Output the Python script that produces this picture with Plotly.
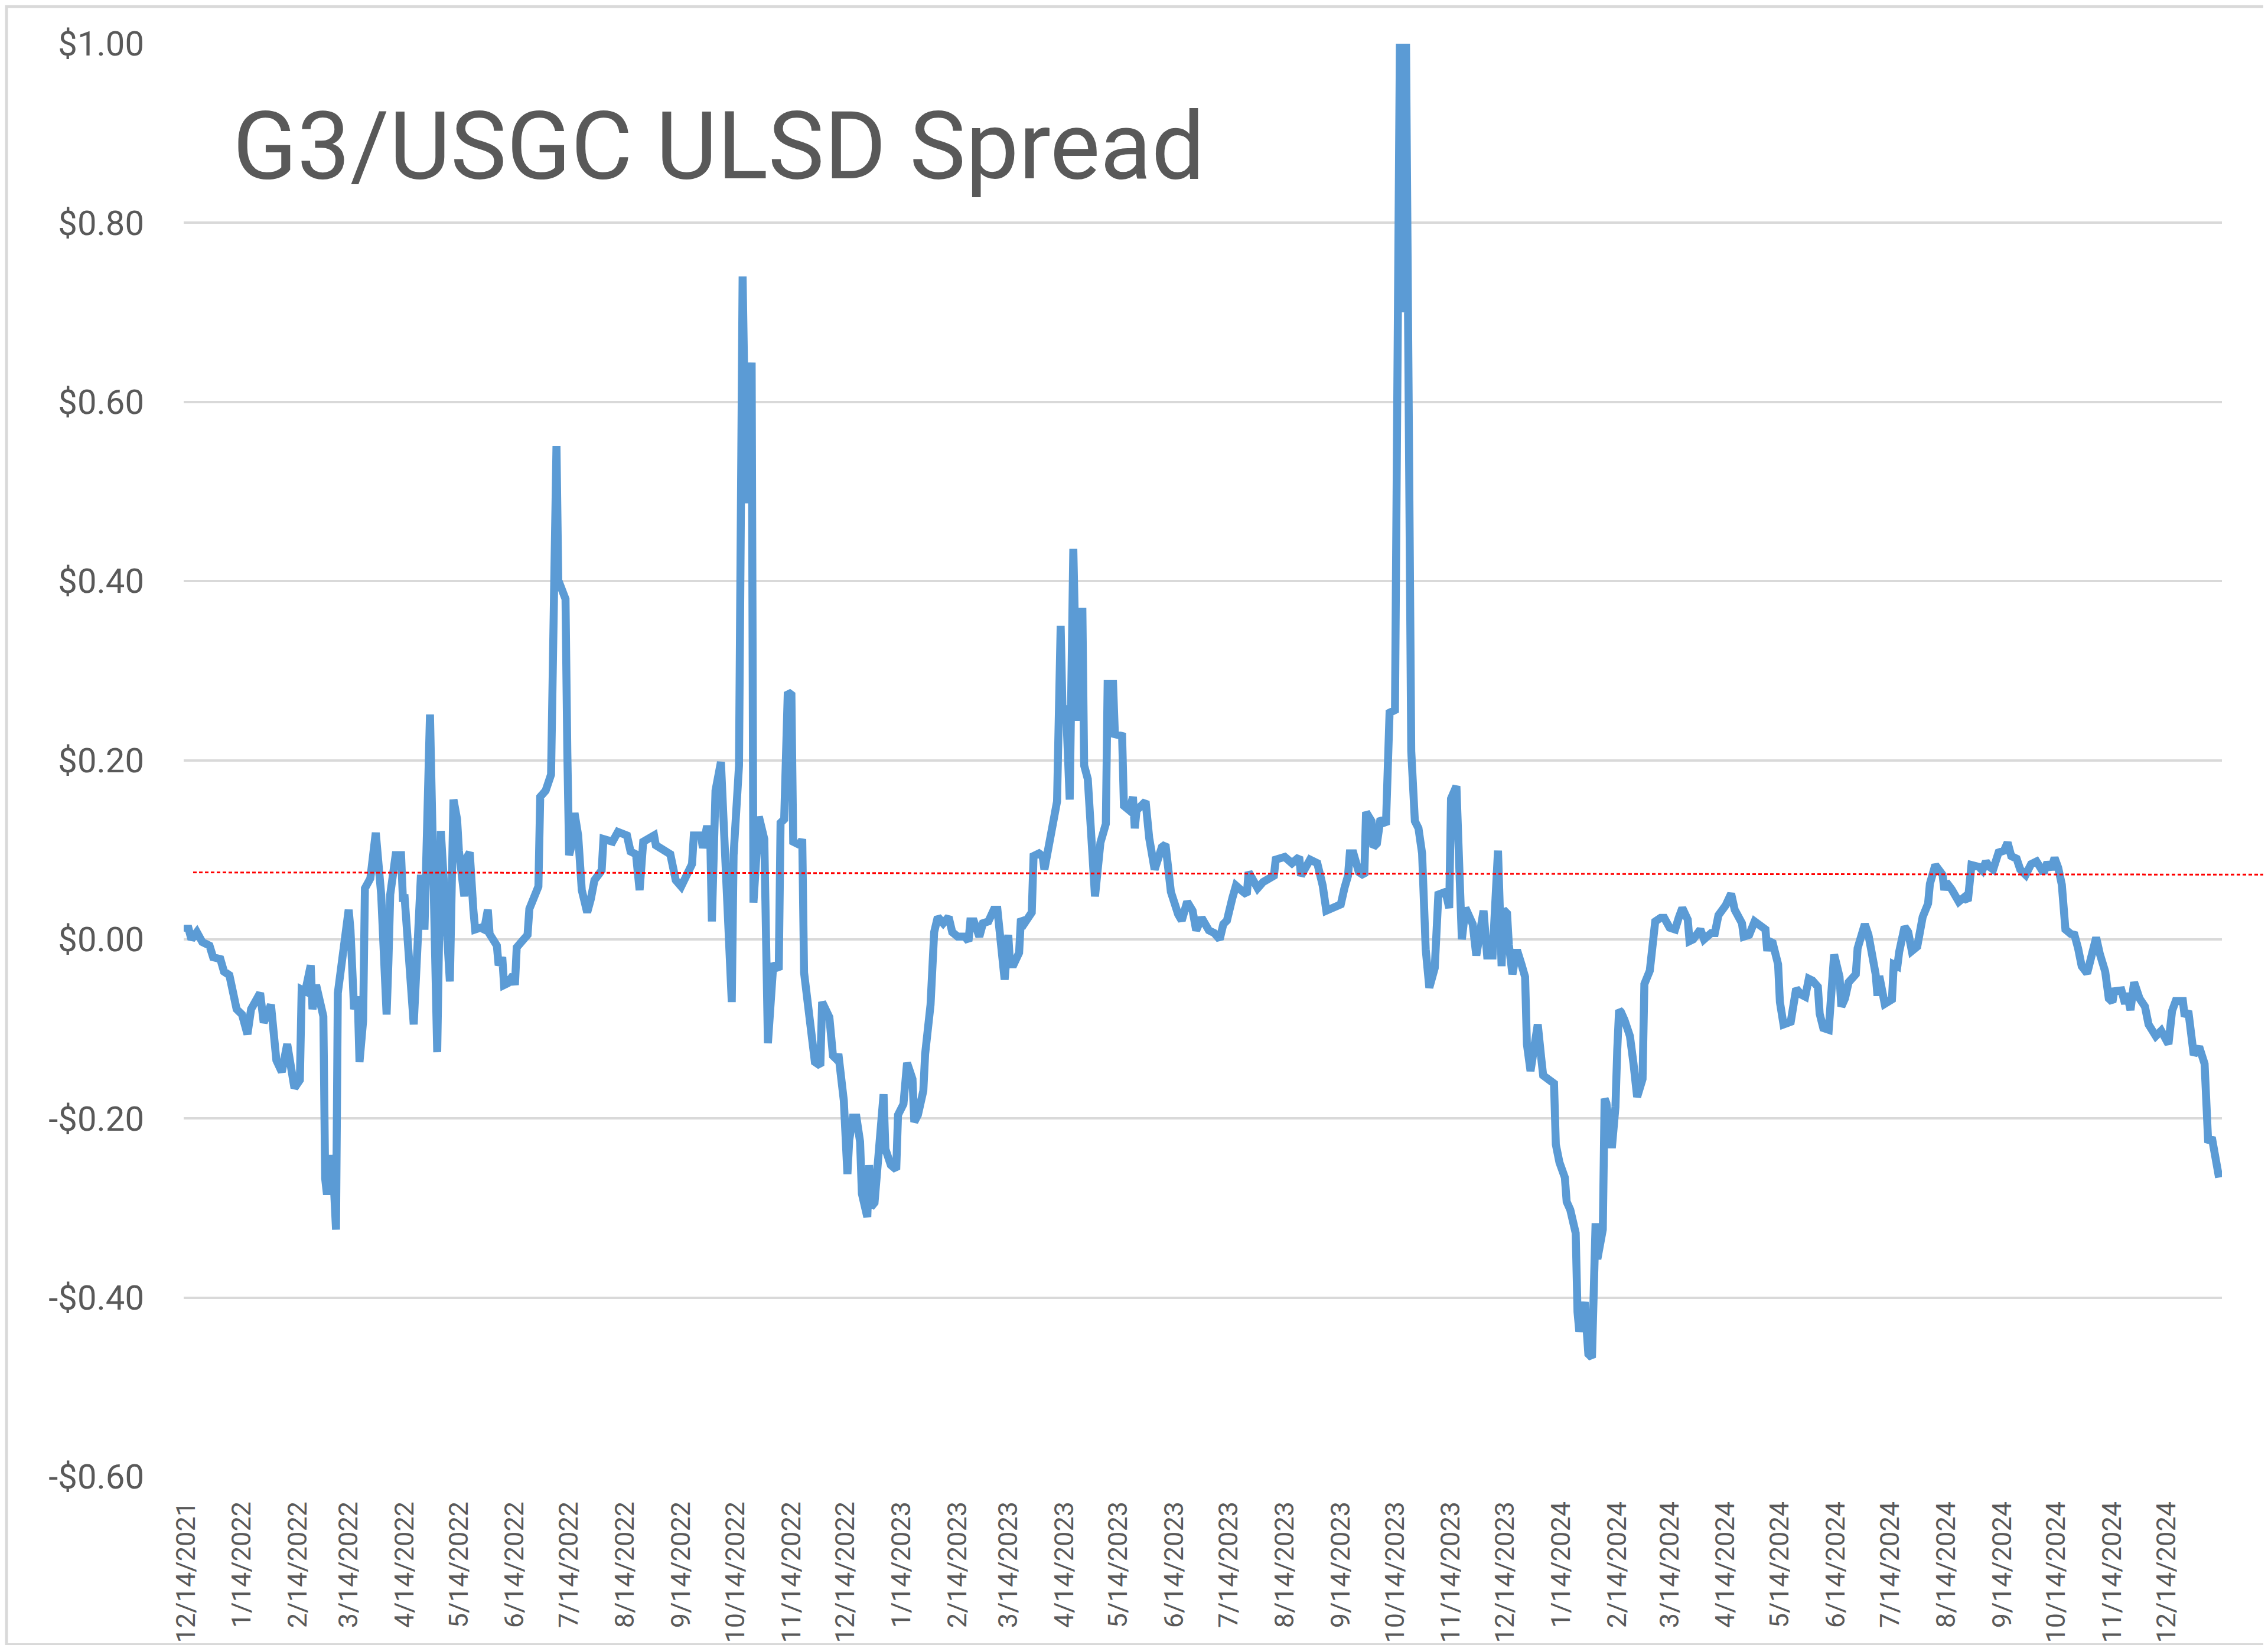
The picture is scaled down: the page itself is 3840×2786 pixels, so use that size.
import pandas as pd
import plotly.graph_objects as go

# ---------------- data ----------------
start_date = "2021-12-14"

# calendar days after start_date
day_offset = [
    0, 1, 3, 6, 9, 13, 15, 19, 21, 24, 28, 31, 34, 36, 41, 43, 47, 50, 53, 56,
    60, 63, 64, 66, 69, 70, 72, 76, 77, 78, 81, 83, 84, 87, 90, 91, 93, 95, 96, 98,
    99, 102, 103, 105, 108, 111, 112, 113, 116, 119, 120, 121, 126, 130, 131, 132, 135, 137, 139, 141,
    143, 146, 148, 150, 151, 154, 155, 157, 159, 160, 163, 165, 167, 168, 172, 173, 175, 176, 178, 181,
    182, 183, 186, 189, 190, 193, 195, 196, 199, 202, 204, 205, 206, 210, 211, 212, 213, 215, 217, 219,
    222, 224, 226, 230, 231, 236, 239, 244, 246, 249, 251, 253, 259, 260, 265, 268, 271, 274, 280, 281,
    285, 286, 288, 290, 291, 293, 296, 301, 302, 303, 306, 308, 310, 313, 314, 317, 320, 322, 325, 328,
    329, 331, 333, 335, 336, 340, 341, 342, 346, 348, 351, 352, 356, 358, 360, 361, 364, 365, 366, 367,
    369, 371, 372, 373, 374, 377, 378, 379, 381, 383, 386, 387, 390, 393, 394, 397, 399, 402, 403, 405,
    408, 409, 412, 414, 416, 419, 422, 424, 427, 431, 433, 434, 436, 439, 441, 444, 447, 449, 451, 453,
    455, 456, 458, 461, 462, 464, 468, 469, 472, 474, 475, 478, 482, 484, 485, 487, 489, 491, 493, 496,
    497, 499, 503, 506, 509, 510, 513, 514, 518, 519, 522, 524, 525, 526, 531, 533, 536, 540, 542, 545,
    547, 549, 551, 554, 557, 559, 562, 566, 569, 572, 574, 576, 579, 581, 585, 587, 588, 593, 596, 602,
    603, 608, 612, 616, 617, 622, 626, 629, 631, 636, 639, 641, 643, 644, 646, 649, 652, 653, 656, 657,
    659, 661, 664, 666, 669, 672, 673, 675, 678, 680, 682, 684, 686, 688, 691, 693, 697, 699, 700, 703,
    706, 708, 712, 714, 718, 720, 723, 726, 728, 729, 731, 732, 734, 736, 737, 739, 741, 742, 744, 746,
    748, 750, 751, 755, 757, 758, 760, 763, 764, 766, 769, 770, 771, 774, 775, 776, 778, 779, 780, 781,
    784, 785, 786, 789, 791, 792, 793, 794, 796, 799, 801, 803, 806, 807, 810, 812, 813, 816, 818, 821,
    824, 826, 828, 831, 832, 834, 838, 840, 844, 846, 848, 852, 855, 857, 861, 862, 865, 868, 870, 874,
    875, 876, 878, 881, 882, 884, 888, 890, 891, 894, 896, 898, 900, 903, 904, 906, 909, 912, 915, 916,
    918, 920, 924, 925, 929, 931, 935, 936, 937, 940, 944, 945, 947, 948, 951, 953, 955, 958, 961, 964,
    965, 968, 972, 973, 974, 977, 981, 984, 986, 988, 992, 994, 996, 998, 1000, 1003, 1006, 1008, 1010, 1013,
    1015, 1018, 1021, 1024, 1028, 1030, 1032, 1034, 1036, 1038, 1040, 1043, 1045, 1047, 1049, 1052, 1054, 1057, 1059, 1062,
    1064, 1066, 1067, 1071, 1073, 1074, 1076, 1078, 1081, 1084, 1086, 1090, 1093, 1097, 1099, 1101, 1105, 1106, 1108, 1111,
    1114, 1117, 1119, 1121, 1125,
]

# G3 / USGC ULSD spread, $/gal
spread = [
    0.008, 0.015, 0.000, 0.008, -0.003, -0.007, -0.020, -0.022, -0.036, -0.040, -0.078, -0.084, -0.106, -0.078, -0.060, -0.093, -0.073, -0.135, -0.148, -0.117,
    -0.166, -0.157, -0.056, -0.058, -0.029, -0.078, -0.051, -0.086, -0.267, -0.285, -0.241, -0.324, -0.060, -0.016, 0.033, 0.011, -0.078, -0.064, -0.137, -0.091,
    0.057, 0.068, 0.094, 0.119, 0.050, -0.084, -0.025, 0.050, 0.094, 0.094, 0.046, 0.046, -0.095, 0.072, 0.015, 0.015, 0.251, 0.099, -0.126, 0.121,
    0.055, -0.047, 0.156, 0.134, 0.099, 0.048, 0.090, 0.097, 0.033, 0.011, 0.013, 0.011, 0.033, 0.006, -0.007, -0.029, -0.020, -0.051, -0.049, -0.040,
    -0.051, -0.009, -0.002, 0.005, 0.034, 0.052, 0.059, 0.159, 0.166, 0.184, 0.551, 0.551, 0.401, 0.380, 0.209, 0.094, 0.102, 0.141, 0.116, 0.055,
    0.030, 0.045, 0.066, 0.077, 0.112, 0.109, 0.120, 0.116, 0.098, 0.095, 0.055, 0.109, 0.116, 0.105, 0.098, 0.095, 0.066, 0.059, 0.084, 0.116,
    0.116, 0.102, 0.123, 0.123, 0.020, 0.166, 0.198, -0.063, -0.070, 0.094, 0.194, 0.740, 0.487, 0.644, 0.041, 0.137, 0.112, -0.116, -0.027, -0.034,
    0.130, 0.134, 0.276, 0.273, 0.109, 0.105, 0.112, -0.037, -0.105, -0.137, -0.141, -0.070, -0.087, -0.130, -0.134, -0.128, -0.180, -0.262, -0.262, -0.224,
    -0.199, -0.199, -0.224, -0.226, -0.284, -0.310, -0.252, -0.299, -0.294, -0.239, -0.173, -0.234, -0.252, -0.257, -0.196, -0.184, -0.138, -0.156, -0.204, -0.196,
    -0.169, -0.128, -0.073, 0.008, 0.025, 0.018, 0.025, 0.008, 0.003, 0.003, -0.002, 0.020, 0.020, 0.003, 0.018, 0.020, 0.033, 0.033, -0.007, -0.045,
    0.005, -0.028, -0.028, -0.015, 0.023, 0.018, 0.030, 0.093, 0.096, 0.093, 0.078, 0.108, 0.154, 0.350, 0.257, 0.257, 0.156, 0.436, 0.244, 0.370,
    0.194, 0.179, 0.048, 0.108, 0.129, 0.285, 0.285, 0.229, 0.227, 0.149, 0.144, 0.159, 0.124, 0.144, 0.154, 0.113, 0.078, 0.103, 0.106, 0.053,
    0.039, 0.028, 0.021, 0.042, 0.032, 0.010, 0.024, 0.010, 0.007, 0.000, 0.017, 0.021, 0.046, 0.060, 0.053, 0.050, 0.075, 0.057, 0.064, 0.071,
    0.089, 0.092, 0.085, 0.092, 0.071, 0.089, 0.085, 0.060, 0.032, 0.035, 0.039, 0.057, 0.071, 0.096, 0.096, 0.075, 0.071, 0.142, 0.132, 0.103,
    0.107, 0.135, 0.128, 0.253, 0.256, 1.080, 0.700, 1.030, 0.210, 0.132, 0.124, 0.096, -0.011, -0.054, -0.032, 0.050, 0.053, 0.035, 0.157, 0.171,
    0.000, 0.035, 0.017, -0.018, 0.032, -0.018, -0.018, 0.099, -0.030, 0.033, 0.029, -0.006, -0.039, -0.015, -0.015, -0.028, -0.042, -0.117, -0.147, -0.121,
    -0.095, -0.134, -0.152, -0.158, -0.161, -0.229, -0.249, -0.266, -0.293, -0.302, -0.328, -0.416, -0.438, -0.405, -0.438, -0.463, -0.467, -0.319, -0.317, -0.357,
    -0.324, -0.178, -0.183, -0.233, -0.187, -0.123, -0.079, -0.081, -0.090, -0.108, -0.139, -0.176, -0.156, -0.050, -0.035, -0.006, 0.020, 0.024, 0.024, 0.013,
    0.011, 0.024, 0.035, 0.022, -0.002, 0.000, 0.011, 0.000, 0.007, 0.007, 0.027, 0.038, 0.051, 0.033, 0.018, 0.003, 0.005, 0.020, 0.016, 0.011,
    -0.013, -0.002, -0.004, -0.028, -0.070, -0.095, -0.092, -0.073, -0.055, -0.062, -0.064, -0.044, -0.046, -0.053, -0.083, -0.099, -0.101, -0.017, -0.042, -0.075,
    -0.066, -0.048, -0.039, -0.010, 0.017, 0.005, -0.039, -0.063, -0.041, -0.072, -0.067, -0.028, -0.030, -0.014, 0.014, 0.008, -0.013, -0.008, 0.025, 0.040,
    0.062, 0.083, 0.072, 0.055, 0.064, 0.056, 0.042, 0.047, 0.043, 0.083, 0.081, 0.077, 0.087, 0.081, 0.078, 0.097, 0.099, 0.108, 0.093, 0.090,
    0.078, 0.072, 0.084, 0.087, 0.074, 0.086, 0.078, 0.091, 0.080, 0.061, 0.011, 0.006, 0.005, -0.010, -0.030, -0.038, -0.022, 0.002, -0.016, -0.036,
    -0.066, -0.070, -0.058, -0.057, -0.072, -0.060, -0.079, -0.048, -0.066, -0.075, -0.095, -0.108, -0.102, -0.117, -0.080, -0.069, -0.069, -0.086, -0.080, -0.129,
    -0.120, -0.139, -0.227, -0.221, -0.266,
]

# red dotted reference (average) line: value at its left and right end
ref_line_left = 0.0747
ref_line_right = 0.0722

y_tick_vals = [-0.6, -0.4, -0.2, 0.0, 0.2, 0.4, 0.6, 0.8, 1.0]
y_tick_text = ["-$0.60", "-$0.40", "-$0.20", "$0.00", "$0.20", "$0.40", "$0.60", "$0.80", "$1.00"]

title_text = "G3/USGC ULSD Spread"

# ---------------- figure ----------------
dates = pd.Timestamp(start_date) + pd.to_timedelta(day_offset, unit="D")

W, H = 3840, 2786
L, R, T, B = 303, 86, 66, 288
plot_w = W - L - R
plot_h = H - T - B

grey_text = "#595959"
grid = "#d9d9d9"

fig = go.Figure()
fig.add_trace(go.Scatter(
    x=dates, y=spread, mode="lines",
    line=dict(color="#5B9BD5", width=13.5),
    hoverinfo="skip", showlegend=False,
))

y_min, y_max = -0.6, 1.0


def ydom(v):
    return (v - y_min) / (y_max - y_min)


shapes = [
    # red dotted average line (extends past the plot area to the right edge)
    dict(type="line", xref="paper", yref="y domain",
         x0=(319 - L) / plot_w, x1=(W - L) / plot_w,
         y0=ydom(ref_line_left), y1=ydom(ref_line_right),
         line=dict(color="#FF0000", width=3, dash="6px,4px"), layer="above"),
    # chart border
    dict(type="rect", xref="paper", yref="paper",
         x0=(3 - L) / plot_w, x1=(W - 5 - L) / plot_w,
         y0=-(H - 3 - T - plot_h) / plot_h, y1=(plot_h + T - 3) / plot_h,
         line=dict(color=grid, width=5), fillcolor="rgba(0,0,0,0)", layer="below"),
]

fig.update_layout(
    width=W, height=H,
    margin=dict(l=L, r=R, t=T, b=B, pad=0),
    paper_bgcolor="white", plot_bgcolor="white",
    showlegend=False,
    shapes=shapes,
    annotations=[dict(
        text=title_text, xref="paper", yref="paper",
        x=(384 - L) / plot_w, y=(H - B - 240) / plot_h,
        xanchor="left", yanchor="middle", showarrow=False,
        font=dict(family="Roboto", size=160, color=grey_text),
    )],
)

fig.update_xaxes(
    type="date",
    range=[pd.Timestamp(start_date) - pd.Timedelta(hours=31),
           pd.Timestamp(start_date) + pd.Timedelta(days=1126.6)],
    tickmode="linear", tick0=start_date, dtick="M1",
    tickformat="%-m/%d/%Y", tickangle=-90,
    tickfont=dict(family="Roboto", size=45, color=grey_text),
    showgrid=False, zeroline=False, showline=False, ticks="",
    ticklabelstandoff=32,
)

fig.update_yaxes(
    range=[y_min, y_max],
    tickmode="array", tickvals=y_tick_vals, ticktext=y_tick_text,
    tickfont=dict(family="Roboto", size=58, color=grey_text),
    showgrid=True, gridcolor=grid, gridwidth=4,
    zeroline=False, showline=False, ticks="",
    ticklabelstandoff=66,
)

fig.write_html("out.html")
